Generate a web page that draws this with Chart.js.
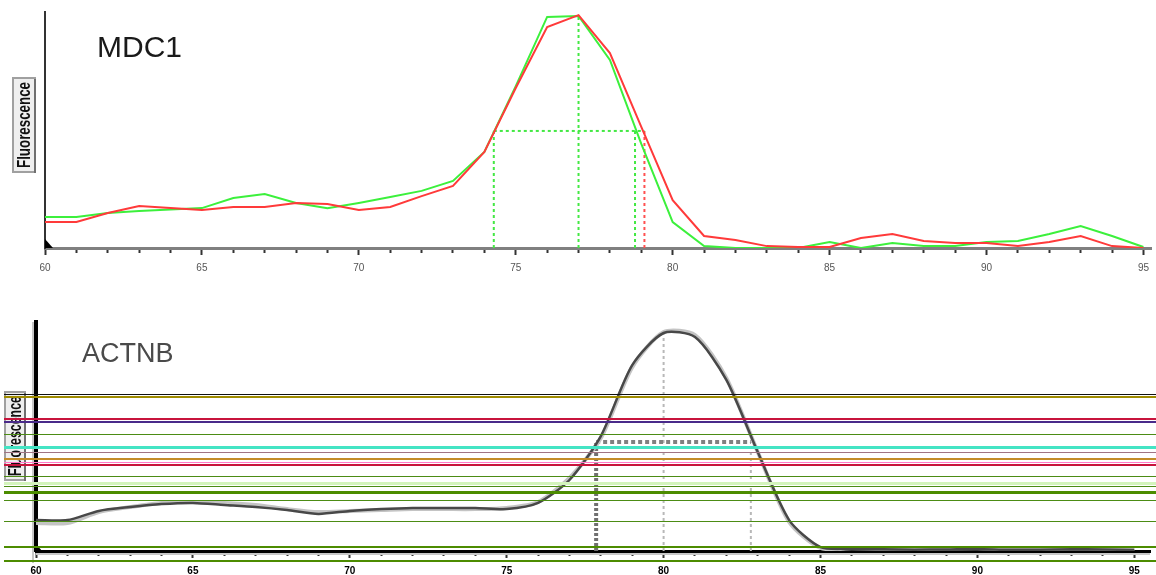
<!DOCTYPE html>
<html>
<head>
<meta charset="utf-8">
<script src="https://cdn.jsdelivr.net/npm/chart.js@4.4.1/dist/chart.umd.min.js"></script>
<style>
  html, body { margin: 0; padding: 0; background: #fff; }
  #wrap { position: relative; width: 1156px; height: 575px; }
  canvas { position: absolute; left: 0; }
  #top { top: 0; }
  #bottom { top: 290px; }
</style>
</head>
<body>
<div id="wrap">
  <canvas id="top" width="1156" height="290"></canvas>
  <canvas id="bottom" width="1156" height="285"></canvas>
</div>
<script>
// temperatures (deg C) of the melt curve readings
const temps = [60, 61, 62, 63, 64, 65, 66, 67, 68, 69, 70, 71, 72, 73, 74, 75, 76, 77,
  78, 79, 80, 81, 82, 83, 84, 85, 86, 87, 88, 89, 90, 91, 92, 93, 94, 95];
const tickLabels = ["60", "65", "70", "75", "80", "85", "90", "95"];

// MDC1 melt peaks (-dF/dT, arbitrary units)
const mdc1Green = [13.1, 13.1, 14.8, 15.7, 16.3, 16.9, 21.2, 22.9, 19.1, 16.9, 19.1, 21.6,
  24.2, 28.4, 40.7, 68.6, 97.9, 98.3, 79.7, 44.1, 11.0, 0.8, 0, 0, 0, 2.5, 0, 2.1, 0.8,
  0.8, 2.5, 3.0, 5.9, 9.3, 5.1, 0.4];
const mdc1Red = [11.0, 11.0, 14.8, 17.8, 16.9, 16.1, 17.4, 17.4, 19.1, 18.6, 16.1, 17.4,
  22.0, 26.3, 40.7, 67.8, 93.6, 98.7, 82.6, 51.3, 20.3, 5.1, 3.4, 0.8, 0.4, 0.4, 4.2, 5.9,
  3.0, 2.1, 2.1, 0.8, 2.5, 5.1, 0.8, 0];
// MDC1 markers: [low half-max, peak, high half-max] temps, half-max level
const mdc1GreenTm = [74.3, 77.0, 78.8];
const mdc1RedHigh = [79.1];
const mdc1Half = [49.6];
const mdc1Peak = [98.3];

// ACTNB melt peak, two overlapping traces
const actnbDark = [13.5, 13.5, 17.5, 19.2, 20.5, 21.0, 20.1, 19.2, 17.9, 16.2, 17.5, 18.3,
  18.8, 18.8, 18.8, 18.3, 21.0, 31.0, 50.2, 81.2, 95.2, 93.4, 74.7, 43.2, 13.5, 1.7, 1.0,
  0.8, 0.6, 0.7, 0.9, 0.5, 0.6, 0.8, 0.7, 0.4];
const actnbLight = [12.2, 12.2, 17.0, 19.2, 21.0, 21.4, 21.0, 20.1, 18.3, 17.0, 17.5, 17.9,
  18.3, 18.3, 18.3, 18.8, 21.4, 31.9, 49.3, 80.3, 95.6, 94.3, 75.5, 43.2, 12.7, 1.3, 1.2,
  1.0, 0.9, 1.1, 1.2, 0.8, 0.9, 1.1, 1.0, 0.7];
const actnbTm = [77.85, 80.0, 82.78];
const actnbHalf = [47.6];
const actnbPeak = [95.2];

// threshold levels drawn across the ACTNB panel
const thresholds = [68.4, 67.4, 57.8, 56.5, 51.1, 46.0, 45.2, 43.1, 40.3, 38.9, 37.7,
  32.6, 29.8, 28.3, 25.6, 22.1, 13.0, 1.9, -4.4];
const thresholdColors = ["#111111", "#a08c00", "#c8143c", "#4a2a8a", "#4c8c14", "#c89484",
  "#44e4c4", "#a07484", "#c48c28", "#ff7cc8", "#c8143c", "#4c8c14", "#d4f4bc", "#4c8c14",
  "#4c8c00", "#4c8c14", "#4c8c14", "#4c8c00", "#4c8c00"];
const thresholdWidths = [1, 2, 2, 2, 1, 1, 3, 1, 2, 1, 2, 1, 3, 1, 3, 1, 1, 2, 2];

const pts = (ys) => temps.map((t, i) => ({ x: t, y: ys[i] }));
const seg = (x1, y1, x2, y2) => [{ x: x1, y: y1 }, { x: x2, y: y2 }];

const FONT = '"Liberation Sans", Arial, sans-serif';

function drawAxisLabel(ctx, x, y, w, h, text) {
  ctx.save();
  ctx.fillStyle = "#efefef";
  ctx.fillRect(x, y, w, h);
  ctx.strokeStyle = "#a0a0a0";
  ctx.lineWidth = 2;
  ctx.strokeRect(x + 1, y + 1, w - 2, h - 2);
  ctx.strokeStyle = "#707070";
  ctx.beginPath();
  ctx.moveTo(x + w - 1, y + 2);
  ctx.lineTo(x + w - 1, y + h);
  ctx.stroke();
  ctx.translate(x + w / 2, y + h / 2);
  ctx.rotate(-Math.PI / 2);
  ctx.font = "bold 19px " + FONT;
  const tw = ctx.measureText(text).width;
  ctx.scale((h - 10) / tw, 1);
  ctx.fillStyle = "#111";
  ctx.textAlign = "center";
  ctx.textBaseline = "middle";
  ctx.fillText(text, 0, 1);
  ctx.restore();
}

function xAxis(max, height, color, border, borderWidth, bold) {
  return {
    type: "linear", min: 60, max: max,
    afterBuildTicks: (s) => { s.ticks = temps.map((v) => ({ value: v })); },
    afterFit: (s) => { s.height = height; },
    ticks: {
      autoSkip: false, maxRotation: 0, padding: 7, color: color,
      font: { size: 10, family: FONT, weight: bold ? "bold" : "normal" },
      callback: (v) => (v % 5 === 0 ? tickLabels[(v - 60) / 5] : ""),
    },
    grid: {
      drawOnChartArea: false, tickLength: 7, tickColor: "#333", tickWidth: 2,
      tickBorderDash: (c) => (c.tick && c.tick.value % 5 === 0 ? [] : [3, 20]),
    },
    border: { color: border, width: borderWidth },
  };
}

function yAxis(width, color, borderWidth) {
  return {
    min: 0, max: 100,
    afterFit: (s) => { s.width = width; },
    ticks: { display: false },
    grid: { drawOnChartArea: false, drawTicks: false },
    border: { color: color, width: borderWidth },
  };
}

const line = (data, color, width, dash) => ({
  data: data, borderColor: color, borderWidth: width, borderDash: dash || [],
  pointRadius: 0, tension: 0, fill: false,
});

/******************** MDC1 ********************/
const topDecor = {
  id: "topDecor",
  afterDraw(chart) {
    const ctx = chart.ctx;
    const a = chart.chartArea;
    ctx.save();
    ctx.fillStyle = "#000";
    ctx.beginPath();
    ctx.moveTo(a.left, a.bottom - 9);
    ctx.lineTo(a.left + 8, a.bottom);
    ctx.lineTo(a.left, a.bottom);
    ctx.fill();
    ctx.font = "30px " + FONT;
    ctx.fillStyle = "#1a1a1a";
    ctx.fillText("MDC1", 97, 57);
    ctx.restore();
    drawAxisLabel(ctx, 12, 77, 24, 96, "Fluorescence");
  },
};

// dataset 0 is painted last (on top)
new Chart(document.getElementById("top"), {
  type: "line",
  data: {
    datasets: [
      line(pts(mdc1Red), "#ff3a3a", 2),
      line(pts(mdc1Green), "#3cf03c", 2),
      line(seg(mdc1GreenTm[0], mdc1Half[0], mdc1RedHigh[0], mdc1Half[0]), "#44e844", 2, [3, 3]),
      line(seg(mdc1RedHigh[0], 0, mdc1RedHigh[0], mdc1Half[0]), "#ff5050", 2, [3, 3]),
      line(seg(mdc1GreenTm[0], 0, mdc1GreenTm[0], mdc1Half[0]), "#44e844", 2, [3, 3]),
      line(seg(mdc1GreenTm[1], 0, mdc1GreenTm[1], mdc1Peak[0]), "#44e844", 2, [3, 3]),
      line(seg(mdc1GreenTm[2], 0, mdc1GreenTm[2], mdc1Half[0]), "#44e844", 2, [3, 3]),
    ],
  },
  options: {
    responsive: false, animation: false,
    layout: { padding: { top: 12, right: 0, bottom: 0, left: 0 } },
    plugins: { legend: { display: false }, tooltip: { enabled: false } },
    scales: {
      x: xAxis(95.25, 42, "#555", "#808080", 3, false),
      y: yAxis(45, "#333", 2),
    },
  },
  plugins: [topDecor],
});

/******************** ACTNB ********************/
const bottomDecor = {
  id: "bottomDecor",
  beforeDatasetsDraw(chart) {
    const ctx = chart.ctx;
    const a = chart.chartArea;
    ctx.save();
    ctx.strokeStyle = "#c8c8c8";
    ctx.lineWidth = 2;
    ctx.beginPath();
    ctx.moveTo(a.left - 3, a.top);
    ctx.lineTo(a.left - 3, a.bottom + 12);
    ctx.moveTo(a.left, a.bottom + 3);
    ctx.lineTo(a.right, a.bottom + 3);
    ctx.stroke();
    ctx.restore();
  },
  afterDraw(chart) {
    const ctx = chart.ctx;
    const a = chart.chartArea;
    const y = chart.scales.y;
    ctx.save();
    ctx.fillStyle = "#000";
    ctx.beginPath();
    ctx.moveTo(a.left, a.bottom - 7);
    ctx.lineTo(a.left + 6, a.bottom);
    ctx.lineTo(a.left, a.bottom);
    ctx.fill();
    ctx.font = "27px " + FONT;
    ctx.fillStyle = "#4a4a4a";
    ctx.fillText("ACTNB", 82, 72);
    ctx.restore();
    drawAxisLabel(ctx, 4, 101, 22, 90, "Fluorescence");
    ctx.save();
    thresholds.forEach((v, i) => {
      const w = thresholdWidths[i];
      const py = Math.round(y.getPixelForValue(v)) + (w % 2 ? 0.5 : 0);
      ctx.strokeStyle = thresholdColors[i];
      ctx.lineWidth = w;
      ctx.beginPath();
      ctx.moveTo(4, py);
      ctx.lineTo(chart.width, py);
      ctx.stroke();
    });
    ctx.restore();
  },
};

new Chart(document.getElementById("bottom"), {
  type: "line",
  data: {
    datasets: [
      { ...line(pts(actnbDark), "#484848", 2.5), tension: 0.25 },
      { ...line(pts(actnbLight), "#c4c4c4", 4), tension: 0.25 },
      line(seg(actnbTm[0], actnbHalf[0], actnbTm[2], actnbHalf[0]), "#808080", 4, [4, 3]),
      line(seg(actnbTm[0], 0, actnbTm[0], actnbHalf[0]), "#707070", 4, [3, 2]),
      line(seg(actnbTm[1], 0, actnbTm[1], actnbPeak[0]), "#b8b8b8", 2, [3, 3]),
      line(seg(actnbTm[2], 0, actnbTm[2], actnbHalf[0]), "#b8b8b8", 2, [3, 3]),
    ],
  },
  options: {
    responsive: false, animation: false,
    layout: { padding: { top: 32, right: 6, bottom: 0, left: 0 } },
    plugins: { legend: { display: false }, tooltip: { enabled: false } },
    scales: {
      x: xAxis(95.5, 24, "#000", "#000", 3, true),
      y: yAxis(36, "#000", 4),
    },
  },
  plugins: [bottomDecor],
});
</script>
</body>
</html>
